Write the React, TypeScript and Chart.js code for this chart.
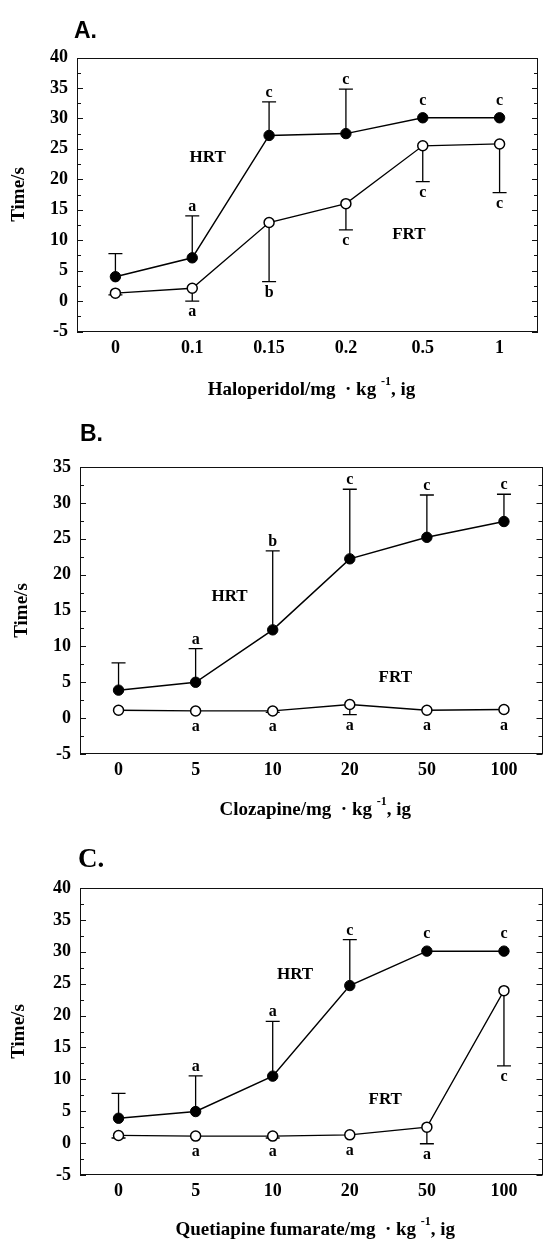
import React, { useEffect, useRef } from "react";
import { Chart, registerables } from "chart.js";

Chart.register(...registerables);

// ---------- DATA ----------
// Panel A: Haloperidol
const dosesA = ["0", "0.1", "0.15", "0.2", "0.5", "1"];
const hrtA = [4.0, 7.1, 27.2, 27.5, 30.1, 30.1];
const hrtSdA = [3.8, 6.9, 5.5, 7.3, 0, 0];
const frtA = [1.3, 2.1, 12.9, 16.0, 25.5, 25.8];
const frtSdA = [0.3, 2.1, 9.7, 4.3, 5.9, 8.0];
const hrtSigA = ["", "a", "c", "c", "c", "c"];
const frtSigA = ["", "a", "b", "c", "c", "c"];

// Panel B: Clozapine
const dosesB = ["0", "5", "10", "20", "50", "100"];
const hrtB = [3.9, 5.0, 12.3, 22.2, 25.2, 27.4];
const hrtSdB = [3.8, 4.7, 11.0, 9.7, 5.9, 3.8];
const frtB = [1.1, 1.0, 1.0, 1.9, 1.1, 1.2];
const frtSdB = [0, 0, 0.2, 1.4, 0, 0];
const hrtSigB = ["", "a", "b", "c", "c", "c"];
const frtSigB = ["", "a", "a", "a", "a", "a"];

// Panel C: Quetiapine fumarate
const dosesC = ["0", "5", "10", "20", "50", "100"];
const hrtC = [3.9, 4.95, 10.5, 24.7, 30.1, 30.1];
const hrtSdC = [3.9, 5.6, 8.6, 7.2, 0, 0];
const frtC = [1.2, 1.1, 1.1, 1.3, 2.5, 23.9];
const frtSdC = [0.4, 0, 0.3, 0, 2.6, 11.8];
const hrtSigC = ["", "a", "a", "c", "c", "c"];
const frtSigC = ["", "a", "a", "a", "a", "c"];

const yRangeA = [-5, 40];
const yRangeB = [-5, 35];
const yRangeC = [-5, 40];

const SERIF = '"Liberation Serif", "Times New Roman", serif';
const SANS = '"Liberation Sans", Arial, sans-serif';

type Panel = {
  id: string;
  top: number;
  h: number;
  area: { left: number; right: number; top: number; bottom: number };
  labels: string[];
  hrt: number[];
  hrtSd: number[];
  frt: number[];
  frtSd: number[];
  hrtSig: string[];
  frtSig: string[];
  yRange: number[];
  letter: string;
  letterFont: string;
  letterPos: [number, number];
  drug: string;
  hrtLabel: [number, number];
  frtLabel: [number, number];
  xTitleY: number;
  yTitleX: number;
};

const panels: Panel[] = [
  {
    id: "A", top: 0, h: 410,
    area: { left: 77, right: 538, top: 57.5, bottom: 331.5 },
    labels: dosesA, hrt: hrtA, hrtSd: hrtSdA, frt: frtA, frtSd: frtSdA,
    hrtSig: hrtSigA, frtSig: frtSigA, yRange: yRangeA,
    letter: "A.", letterFont: `bold 23px ${SANS}`, letterPos: [74, 32],
    drug: "Haloperidol/mg", hrtLabel: [1.2, 23.5], frtLabel: [3.82, 10.9],
    xTitleY: 390, yTitleX: 19,
  },
  {
    id: "B", top: 410, h: 420,
    area: { left: 80, right: 548, top: 57, bottom: 344 },
    labels: dosesB, hrt: hrtB, hrtSd: hrtSdB, frt: frtB, frtSd: frtSdB,
    hrtSig: hrtSigB, frtSig: frtSigB, yRange: yRangeB,
    letter: "B.", letterFont: `bold 23px ${SANS}`, letterPos: [80, 25],
    drug: "Clozapine/mg", hrtLabel: [1.44, 16.9], frtLabel: [3.59, 5.7],
    xTitleY: 400, yTitleX: 22,
  },
  {
    id: "C", top: 830, h: 412,
    area: { left: 80, right: 548, top: 58, bottom: 345 },
    labels: dosesC, hrt: hrtC, hrtSd: hrtSdC, frt: frtC, frtSd: frtSdC,
    hrtSig: hrtSigC, frtSig: frtSigC, yRange: yRangeC,
    letter: "C.", letterFont: `bold 27px ${SERIF}`, letterPos: [78, 30],
    drug: "Quetiapine fumarate/mg", hrtLabel: [2.29, 26.4], frtLabel: [3.46, 6.8],
    xTitleY: 400, yTitleX: 19,
  },
];

function makePlugin(p: Panel) {
  return {
    id: "decor" + p.id,
    beforeDatasetsDraw(chart: any) {
      const { ctx, chartArea: a } = chart;
      const x = chart.scales.x;
      const y = chart.scales.y;
      ctx.save();
      ctx.strokeStyle = "#111";
      ctx.lineWidth = 1;
      ctx.strokeRect(Math.round(a.left) + 0.5, Math.round(a.top) + 0.5,
        Math.round(a.right - a.left) - 1, Math.round(a.bottom - a.top) - 1);
      for (let v = p.yRange[0]; v <= p.yRange[1] + 0.01; v += 2.5) {
        const py = Math.round(y.getPixelForValue(v)) + 0.5;
        const len = Math.abs(v % 5) < 0.01 ? 6 : 4;
        ctx.beginPath();
        ctx.moveTo(a.left, py); ctx.lineTo(a.left + len, py);
        ctx.moveTo(a.right, py); ctx.lineTo(a.right - len, py);
        ctx.stroke();
      }
      ctx.lineWidth = 1.3;
      ctx.strokeStyle = "#000";
      const cap = 7;
      const drawBar = (i: number, v: number, end: number) => {
        const px = x.getPixelForValue(i);
        const p0 = y.getPixelForValue(v);
        const p1 = y.getPixelForValue(end);
        ctx.beginPath();
        ctx.moveTo(px, p0); ctx.lineTo(px, p1);
        ctx.moveTo(px - cap, p1); ctx.lineTo(px + cap, p1);
        ctx.stroke();
      };
      p.hrt.forEach((v, i) => { if (p.hrtSd[i] > 0) drawBar(i, v, v + p.hrtSd[i]); });
      p.frt.forEach((v, i) => { if (p.frtSd[i] > 0) drawBar(i, v, v - p.frtSd[i]); });
      ctx.restore();
    },
    afterDatasetsDraw(chart: any) {
      const { ctx, chartArea: a } = chart;
      const x = chart.scales.x;
      const y = chart.scales.y;
      ctx.save();
      ctx.fillStyle = "#000";
      ctx.font = `bold 16px ${SERIF}`;
      ctx.textAlign = "center";
      ctx.textBaseline = "alphabetic";
      p.hrtSig.forEach((s, i) => {
        if (!s) return;
        const px = x.getPixelForValue(i);
        const sd = p.hrtSd[i];
        const base = sd > 0 ? y.getPixelForValue(p.hrt[i] + sd) - 5 : y.getPixelForValue(p.hrt[i]) - 13;
        ctx.fillText(s, px, base);
      });
      p.frtSig.forEach((s, i) => {
        if (!s) return;
        const px = x.getPixelForValue(i);
        const sd = p.frtSd[i];
        const capY = y.getPixelForValue(p.frt[i] - sd) + 15;
        const ptY = y.getPixelForValue(p.frt[i]) + 20;
        ctx.fillText(s, px, Math.max(capY, ptY));
      });
      ctx.font = `bold 17px ${SERIF}`;
      ctx.textBaseline = "middle";
      ctx.fillText("HRT", x.getPixelForValue(p.hrtLabel[0]), y.getPixelForValue(p.hrtLabel[1]));
      ctx.fillText("FRT", x.getPixelForValue(p.frtLabel[0]), y.getPixelForValue(p.frtLabel[1]));
      ctx.font = p.letterFont;
      ctx.textAlign = "left";
      ctx.fillText(p.letter, p.letterPos[0], p.letterPos[1]);
      ctx.save();
      ctx.translate(p.yTitleX, (a.top + a.bottom) / 2);
      ctx.rotate(-Math.PI / 2);
      ctx.textAlign = "center";
      ctx.font = `bold 19px ${SERIF}`;
      ctx.fillText("Time/s", 0, 0);
      ctx.restore();
      const mainFont = `bold 19px ${SERIF}`;
      const supFont = `bold 12px ${SERIF}`;
      const part1 = p.drug + "  \u00B7 kg ";
      const sup = "-1";
      const part2 = ", ig";
      ctx.font = mainFont;
      const w1 = ctx.measureText(part1).width;
      const w3 = ctx.measureText(part2).width;
      ctx.font = supFont;
      const w2 = ctx.measureText(sup).width;
      const total = w1 + w2 + w3;
      let sx = (a.left + a.right) / 2 - total / 2 + 4;
      const ty = p.xTitleY;
      ctx.textAlign = "left";
      ctx.textBaseline = "middle";
      ctx.font = mainFont;
      ctx.fillText(part1, sx, ty);
      sx += w1;
      ctx.font = supFont;
      ctx.fillText(sup, sx, ty - 8);
      sx += w2;
      ctx.font = mainFont;
      ctx.fillText(part2, sx, ty);
      ctx.restore();
    },
  };
}

function PanelChart({ p }: { p: Panel }) {
  const ref = useRef<HTMLCanvasElement>(null);
  useEffect(() => {
    if (!ref.current) return;
    const chart = new Chart(ref.current, {
      type: "line",
      data: {
        labels: p.labels,
        datasets: [
          {
            label: "HRT", data: p.hrt, borderColor: "#000", borderWidth: 1.5,
            pointRadius: 5.2, pointBackgroundColor: "#000", pointBorderColor: "#000",
            pointBorderWidth: 1, tension: 0, fill: false,
          },
          {
            label: "FRT", data: p.frt, borderColor: "#000", borderWidth: 1.3,
            pointRadius: 5, pointBackgroundColor: "#fff", pointBorderColor: "#000",
            pointBorderWidth: 1.5, tension: 0, fill: false,
          },
        ],
      },
      options: {
        responsive: false,
        animation: false,
        devicePixelRatio: 1,
        layout: { padding: { top: p.area.top, right: 549 - p.area.right, left: 0, bottom: 0 } },
        plugins: { legend: { display: false }, tooltip: { enabled: false } },
        scales: {
          x: {
            type: "category", offset: true,
            grid: { display: false, drawTicks: false },
            border: { display: false },
            ticks: {
              font: { family: SERIF, size: 18, weight: "bold" }, color: "#000",
              padding: 6, maxRotation: 0, autoSkip: false,
            },
            afterFit: (s: any) => { s.height = p.h - p.area.bottom; },
          },
          y: {
            min: p.yRange[0], max: p.yRange[1],
            grid: { display: false, drawTicks: false },
            border: { display: false },
            ticks: {
              stepSize: 5, font: { family: SERIF, size: 18, weight: "bold" }, color: "#000",
              padding: 9,
            },
            afterFit: (s: any) => { s.width = p.area.left; },
          },
        },
      } as any,
      plugins: [makePlugin(p)],
    });
    return () => chart.destroy();
  }, [p]);
  return (
    <canvas
      ref={ref}
      width={549}
      height={p.h}
      style={{ position: "absolute", left: 0, top: p.top, width: 549, height: p.h }}
    />
  );
}

export default function App() {
  return (
    <div style={{ position: "absolute", left: 0, top: 0, width: 549, height: 1242, background: "#fff" }}>
      {panels.map((p) => (
        <PanelChart key={p.id} p={p} />
      ))}
    </div>
  );
}
